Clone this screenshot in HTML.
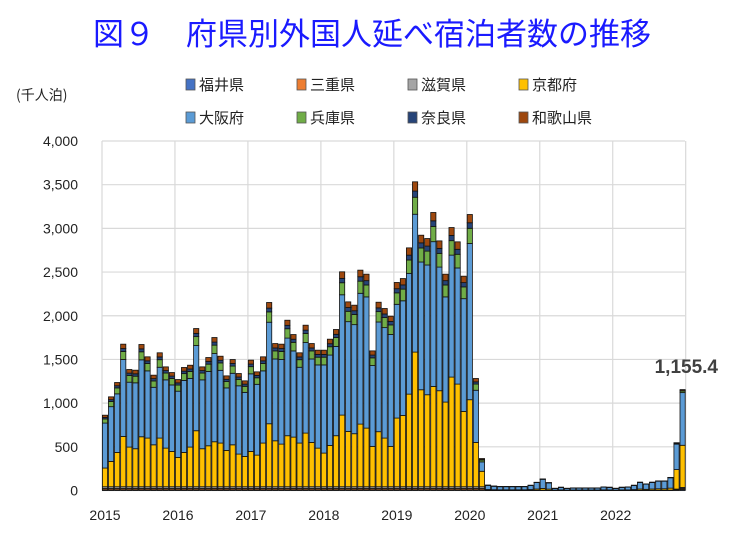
<!DOCTYPE html>
<html><head><meta charset="utf-8">
<style>
html,body{margin:0;padding:0;background:#fff;}
body{width:738px;height:535px;overflow:hidden;font-family:"Liberation Sans","Noto Sans CJK JP",sans-serif;}
</style></head>
<body>
<svg id="c" width="738" height="535" xmlns="http://www.w3.org/2000/svg" font-family="Liberation Sans, Noto Sans CJK JP, sans-serif">
<text x="372" y="45" text-anchor="middle" font-size="31" fill="#1a1aff" font-family="Noto Sans CJK JP, sans-serif">図９　府県別外国人延べ宿泊者数の推移</text>
<text x="16" y="100" font-size="14" fill="#222" font-family="Noto Sans CJK JP, sans-serif">(千人泊)</text>
<g id="leg" font-size="15" fill="#222" font-family="Noto Sans CJK JP, sans-serif"></g>
<g id="grid"></g>
<g id="bars" stroke="#111" stroke-width="0.8"></g>
<g id="ax" font-size="14" fill="#222"></g>
<text x="718" y="373" text-anchor="end" font-size="19" font-weight="bold" fill="#404040">1,155.4</text>
</svg>
<script>
var NS="http://www.w3.org/2000/svg";
function el(p,t,a,txt){var e=document.createElementNS(NS,t);for(var k in a)e.setAttribute(k,a[k]);if(txt!=null)e.textContent=txt;p.appendChild(e);return e;}
var cols=["#4472c4","#ed7d31","#a5a5a5","#ffc000","#5b9bd5","#70ad47","#264478","#9e480e"];
var names=["福井県","三重県","滋賀県","京都府","大阪府","兵庫県","奈良県","和歌山県"];
var leg=document.getElementById("leg");
var lx=[186,297,408,519];
for(var i=0;i<8;i++){var r=Math.floor(i/4),c=i%4;var y=r?118:85;
el(leg,"rect",{x:lx[c],y:y-6,width:9,height:11,fill:cols[i],stroke:"#555","stroke-width":0.8});
el(leg,"text",{x:lx[c]+13,y:y+5},names[i]);}
var x0=102,x1=685,yb=490.5,sc=0.08737;
var grid=document.getElementById("grid"),ax=document.getElementById("ax");
for(var v=0;v<=4000;v+=500){var y=yb-v*sc;
el(grid,"line",{x1:x0,x2:x1,y1:y,y2:y,stroke:"#d9d9d9","stroke-width":1.2});
el(ax,"text",{x:78,y:y+5,"text-anchor":"end"},v.toLocaleString("en-US"));}
var pm=6.08;
for(var yr=0;yr<=8;yr++){var x=x0+yr*12*pm;
el(grid,"line",{x1:x,x2:x,y1:yb-4000*sc,y2:yb,stroke:"#d9d9d9","stroke-width":1.2});
if(yr<8)el(ax,"text",{x:x+3,y:520,"text-anchor":"middle"},String(2015+yr));}
el(grid,"line",{x1:x0,x2:x1,y1:yb,y2:yb,stroke:"#999","stroke-width":1});
var T=[862,1072,1236,1675,1385,1377,1671,1530,1320,1576,1415,1350,
1270,1408,1434,1854,1415,1522,1751,1537,1312,1499,1339,1255,
1492,1358,1530,2152,1682,1675,1949,1785,1576,1892,1682,1606,
1606,1732,1843,2503,2159,2121,2522,2476,1598,2155,2083,1995,
2381,2426,2777,3533,2922,2884,3182,2857,2476,3010,2846,2453,
3159,1282,366,61,50,45,45,45,45,45,60,94,132,90,25,37,
25,30,30,30,30,30,40,37,25,37,40,60,95,75,95,110,150,547,1155,1155];
var K=[214,290,393,576,454,435,572,557,480,557,442,404,
336,393,454,641,435,469,515,500,416,480,374,347,
404,362,500,721,526,488,584,568,500,614,507,442,
385,473,584,820,633,607,717,671,462,630,557,462,
786,816,1060,1541,1110,1053,1148,1099,969,1255,1175,862,
996,507,177];
// fix tail: last index 95 should be 1155, index 94 547
T[94]=547;T[95]=1155;T[93]=150;T[92]=110;
var bars=document.getElementById("bars");
for(var i=0;i<96;i++){var t=T[i];var seg;
if(i<63){var k=K[i];var fu=8,mi=15,sh=20,hy=0.055*t,na=0.02*t,wa=0.03*t;
seg=[fu,mi,sh,k,t-k-fu-mi-sh-hy-na-wa,hy,na,wa];}
else{var k=(i==95)?483:(i==94)?223:(i==62?177:0.15*t);
seg=[t*0.01,t*0.01,t*0.01,k,t-k-t*0.06,t*0.015,t*0.005,t*0.01];}
var x=x0+i*pm+0.4,acc=0;
for(var s=0;s<8;s++){var h=seg[s]*sc;if(h<=0)continue;
el(bars,"rect",{x:x.toFixed(2),y:(yb-(acc+seg[s])*sc).toFixed(2),width:5.2,height:h.toFixed(2),fill:cols[s]});
acc+=seg[s];}}
</script>
</body></html>
